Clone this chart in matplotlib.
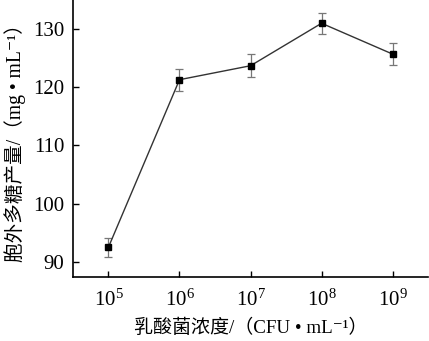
import matplotlib
matplotlib.use("Agg")
from matplotlib import pyplot as plt

# 乳酸菌接种浓度 (10^n CFU/mL) 与胞外多糖产量
exponents = [5, 6, 7, 8, 9]
eps_yield = [92.5, 121.3, 123.7, 131.0, 125.7]
eps_err = [1.6, 1.9, 2.0, 1.8, 1.9]
tick_labels = ["$10^{%d}$" % e for e in exponents]
y_ticks = [90, 100, 110, 120, 130]

fonts = ["Liberation Serif", "Noto Sans CJK SC", "DejaVu Serif"]
plt.rcParams["font.family"] = fonts
plt.rcParams["mathtext.fontset"] = "custom"
plt.rcParams["mathtext.rm"] = "Liberation Serif"
plt.rcParams["mathtext.it"] = "Liberation Serif"

fig = plt.figure(figsize=(4.29, 3.41), dpi=100)
ax = fig.add_axes([0.170, 0.188, 0.828, 0.812])

ax.errorbar(exponents, eps_yield, yerr=eps_err, color="#333333", lw=1.0,
            marker="s", ms=5, mfc="black", mec="black",
            ecolor="#777777", elinewidth=0.9, capsize=3, capthick=0.9)

ax.set_xlim(4.5, 9.5)
ax.set_ylim(87.4, 135.0)
ax.set_xticks(exponents)
ax.set_xticklabels(tick_labels)
ax.set_yticks(y_ticks)
ax.tick_params(direction="in", length=4, width=1, labelsize=15)
ax.tick_params(axis="x", pad=9)
ax.tick_params(axis="y", pad=6)

for side in ["top", "right"]:
    ax.spines[side].set_visible(False)
for side in ["left", "bottom"]:
    ax.spines[side].set_linewidth(1.2)

ax.set_xlabel("乳酸菌浓度/（CFU • mL⁻¹）", fontsize=13.7, labelpad=6)
ax.set_ylabel("胞外多糖产量/（mg • mL⁻¹）", fontsize=14.1, labelpad=5)

fig.savefig("out.png", dpi=100)
